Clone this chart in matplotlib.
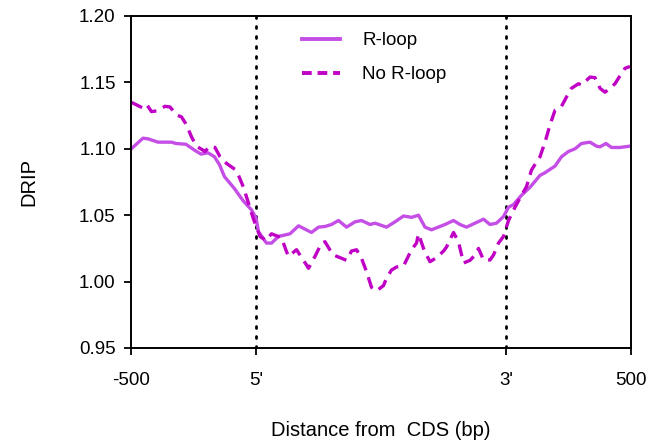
import matplotlib
matplotlib.use("Agg")
import matplotlib.pyplot as plt
from matplotlib.lines import Line2D

plt.rcParams['font.family'] = ['Liberation Sans', 'DejaVu Sans']

# ---- data (x in bin units: 0 = -500 bp, 25 = 5', 75 = 3', 100 = +500 bp) ----
rloop_x = [0.06, 2.4, 3.4, 5.4, 8.1, 9.0, 11.0, 12.7, 14.0, 15.4, 16.7, 17.7, 18.7,
           20.7, 22.4, 24.1, 25.0, 25.5, 27.1, 28.1, 29.5, 31.8, 33.5, 36.1, 37.5,
           38.8, 40.1, 41.5, 43.1, 44.8, 46.1, 47.8, 48.8, 51.1, 52.8, 54.5, 56.1,
           57.5, 58.8, 60.1, 62.8, 64.5, 65.8, 67.1, 68.8, 70.5, 71.8, 73.1, 74.5,
           75.5, 76.5, 78.1, 79.8, 81.8, 82.8, 84.8, 86.1, 87.5, 88.8, 90.1, 91.8,
           93.1, 93.8, 95.0, 96.1, 97.8, 99.8]
rloop_y = [1.100, 1.108, 1.1075, 1.105, 1.105, 1.104, 1.1034, 1.099, 1.096, 1.097,
           1.094, 1.088, 1.079, 1.070, 1.061, 1.054, 1.048, 1.0376, 1.029, 1.029,
           1.034, 1.036, 1.042, 1.037, 1.041, 1.0415, 1.043, 1.046, 1.041, 1.045,
           1.046, 1.043, 1.044, 1.041, 1.045, 1.0494, 1.0484, 1.050, 1.041, 1.039,
           1.043, 1.046, 1.043, 1.041, 1.044, 1.047, 1.043, 1.044, 1.049, 1.056,
           1.058, 1.065, 1.071, 1.080, 1.082, 1.087, 1.094, 1.098, 1.100, 1.104,
           1.105, 1.102, 1.1015, 1.104, 1.101, 1.101, 1.102]

norloop_x = [0.06, 2.5, 3.2, 4.1, 5.1, 6.8, 7.8, 9.1, 10.1, 11.1, 12.1, 13.1, 14.8,
             15.8, 16.8, 17.8, 19.1, 20.8, 21.5, 22.5, 23.5, 24.5, 25.8, 27.0, 28.1,
             30.1, 31.1, 31.5, 33.1, 33.8, 35.1, 35.5, 36.8, 38.1, 38.8, 39.8, 40.5,
             42.1, 43.1, 44.1, 45.1, 46.1, 47.1, 48.1, 49.1, 50.5, 51.1, 52.1, 53.1,
             54.5, 55.1, 56.1, 57.1, 57.5, 58.5, 59.1, 59.8, 61.1, 62.5, 63.1, 64.5,
             65.5, 66.5, 67.8, 68.8, 69.5, 70.5, 71.8, 72.5, 73.5, 74.5, 75.5, 76.8,
             78.1, 79.1, 80.1, 81.1, 81.8, 82.8, 83.8, 84.8, 86.1, 87.1, 88.1, 89.5,
             90.1, 91.8, 92.8, 93.8, 94.8, 95.8, 96.8, 97.8, 98.8, 99.8]
norloop_y = [1.135, 1.1305, 1.133, 1.128, 1.1285, 1.132, 1.1315, 1.1255, 1.124, 1.118,
             1.109, 1.102, 1.098, 1.102, 1.101, 1.094, 1.089, 1.0845, 1.080, 1.071,
             1.059, 1.047, 1.034, 1.031, 1.036, 1.033, 1.0226, 1.019, 1.024, 1.020,
             1.0125, 1.010, 1.019, 1.029, 1.030, 1.0238, 1.020, 1.0176, 1.016, 1.023,
             1.024, 1.0176, 1.0075, 0.9957, 0.993, 0.997, 1.0025, 1.0087, 1.011,
             1.0117, 1.0163, 1.024, 1.029, 1.036, 1.025, 1.020, 1.015, 1.018, 1.023,
             1.026, 1.037, 1.030, 1.014, 1.016, 1.020, 1.025, 1.0163, 1.0163, 1.020,
             1.029, 1.034, 1.046, 1.056, 1.065, 1.0715, 1.084, 1.090, 1.094, 1.105,
             1.118, 1.129, 1.132, 1.139, 1.1456, 1.149, 1.148, 1.154, 1.1536, 1.1456,
             1.1426, 1.1456, 1.149, 1.155, 1.1606, 1.162]

series_labels = ["R-loop", "No R-loop"]
xtick_pos = [0, 25, 75, 100]
xtick_labels = ["-500", "5'", "3'", "500"]
ytick_vals = [0.95, 1.00, 1.05, 1.10, 1.15, 1.20]
boundaries = [25, 75]

W, H = 652, 443
fig = plt.figure(figsize=(W / 100, H / 100), dpi=100)
ax = fig.add_axes([131 / W, 1 - 348 / H, 500 / W, 332 / H])

solid_color = '#C44EE6'
dash_color = '#C000C4'

ax.plot(rloop_x, rloop_y, color=solid_color, lw=2.4, solid_joinstyle='round',
        label=series_labels[0])
ax.plot(norloop_x, norloop_y, color=dash_color, lw=2.4, linestyle=(0, (3.6, 2.2)),
        label=series_labels[1])

for b in boundaries:
    ax.axvline(b, color='black', lw=2.0, linestyle=(0, (0.7, 2.9)),
               dash_capstyle='round', zorder=1)

ax.set_xlim(0, 100)
ax.set_ylim(0.95, 1.20)
ax.set_xticks(xtick_pos)
ax.set_xticklabels(xtick_labels)
ax.set_yticks(ytick_vals)
ax.set_yticklabels([f"{v:.2f}" for v in ytick_vals])

for s in ax.spines.values():
    s.set_linewidth(1.4)
ax.tick_params(axis='both', direction='out', length=5, width=1.3, labelsize=13.5,
               colors='black')
ax.tick_params(axis='x', pad=12)
ax.tick_params(axis='y', pad=6)

ax.set_ylabel("DRIP", fontsize=14.5, labelpad=29)
ax.set_xlabel("Distance from  CDS (bp)", fontsize=14.5, labelpad=23)

handles = [Line2D([], [], color=solid_color, lw=2.8),
           Line2D([], [], color=dash_color, lw=2.8, linestyle=(0, (2.5, 1.5)))]
ax.legend(handles, series_labels, loc='upper left', bbox_to_anchor=(0.335, 0.962),
          frameon=False, fontsize=13.5, handlelength=2.0, handletextpad=1.2,
          labelspacing=0.9, borderpad=0.2, borderaxespad=0)

fig.savefig("out.png", dpi=100)
